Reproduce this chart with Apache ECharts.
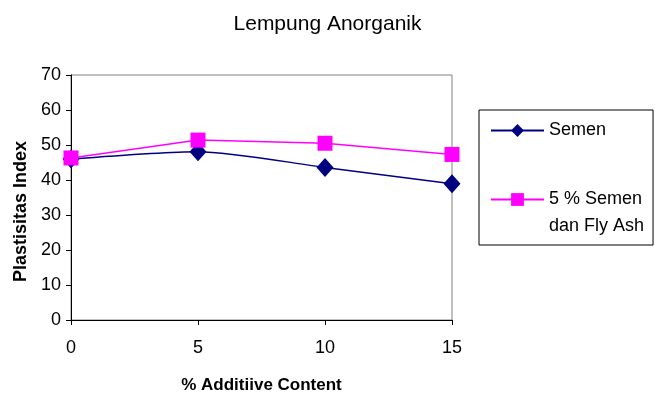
<!DOCTYPE html>
<html><head><meta charset="utf-8">
<script src="https://cdn.jsdelivr.net/npm/echarts@6/dist/echarts.min.js"></script>
<style>html,body{margin:0;padding:0;background:#fff}#c{width:655px;height:400px}</style>
</head><body><div id="c"></div>
<script>
var xValues = [0, 5, 10, 15];
var semen = [46, 48.1, 43.6, 38.9];
var semenFlyAsh = [46.3, 51.4, 50.5, 47.3];
var seriesNames = ['Semen', '5 % Semen dan Fly Ash'];
var yTicks = [0, 10, 20, 30, 40, 50, 60, 70];

var font = 'Liberation Sans, Arial, sans-serif';
var chart = echarts.init(document.getElementById('c'));
chart.setOption({
  animation: false,
  title: {text: 'Lempung Anorganik', left: 'center', top: 9,
    textStyle: {fontFamily: font, fontSize: 21, fontWeight: 'normal', color: '#000'}},
  grid: {left: 71, right: 203, top: 75, bottom: 80, show: true, borderColor: '#808080', borderWidth: 1},
  legend: {
    orient: 'vertical', left: 479, top: 110,
    padding: [7, 9, 5, 11], itemGap: 15, itemWidth: 53, itemHeight: 16,
    borderColor: '#000', borderWidth: 1,
    textStyle: {fontFamily: font, fontSize: 18, color: '#000', lineHeight: 27},
    formatter: function (n) { return n === seriesNames[1] ? '\n5 % Semen\ndan Fly Ash' : n; },
    data: seriesNames
  },
  xAxis: {
    type: 'value', min: 0, max: 15, interval: 5,
    name: '% Additiive Content', nameLocation: 'middle', nameGap: 57,
    nameTextStyle: {fontFamily: font, fontSize: 17, fontWeight: 'bold', color: '#000'},
    axisLine: {lineStyle: {color: '#000'}},
    axisTick: {show: true, length: 5, lineStyle: {color: '#000'}},
    axisLabel: {fontFamily: font, fontSize: 18, color: '#000', margin: 19},
    splitLine: {show: false}
  },
  yAxis: {
    type: 'value', min: yTicks[0], max: yTicks[yTicks.length - 1], interval: 10,
    name: 'Plastisitas Index', nameLocation: 'middle', nameGap: 38,
    nameTextStyle: {fontFamily: font, fontSize: 18, fontWeight: 'bold', color: '#000', padding: [0, 28, 0, 0]},
    axisLine: {show: true, lineStyle: {color: '#000'}},
    axisTick: {show: true, length: 5, lineStyle: {color: '#000'}},
    axisLabel: {fontFamily: font, fontSize: 18, color: '#000', margin: 10},
    splitLine: {show: false}
  },
  series: [
    {name: seriesNames[0], type: 'line', smooth: 0.25,
     data: xValues.map(function (x, i) { return [x, semen[i]]; }),
     symbol: 'diamond', symbolSize: [17, 19],
     lineStyle: {color: '#000080', width: 1.5}, itemStyle: {color: '#000080'}},
    {name: seriesNames[1], type: 'line',
     data: xValues.map(function (x, i) { return [x, semenFlyAsh[i]]; }),
     symbol: 'rect', symbolSize: 15,
     lineStyle: {color: '#ff00ff', width: 1.5}, itemStyle: {color: '#ff00ff'}}
  ]
});
</script></body></html>
